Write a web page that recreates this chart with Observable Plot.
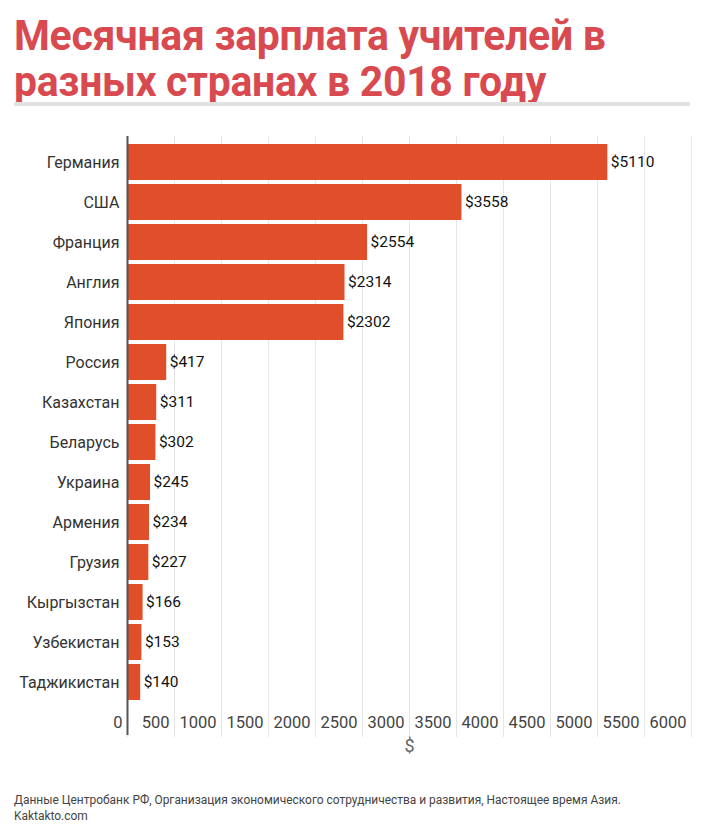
<!DOCTYPE html>
<html>
<head>
<meta charset="utf-8">
<script src="https://cdn.jsdelivr.net/npm/d3@7"></script>
<script src="https://cdn.jsdelivr.net/npm/@observablehq/plot@0.6"></script>
<style>
  html, body { margin: 0; padding: 0; background: #fff; width: 703px; height: 837px; overflow: hidden; }
  #wrap { position: relative; width: 703px; height: 837px; font-family: Roboto, "Noto Sans", sans-serif; }
  .title { position: absolute; left: 14px; top: 13px; font-weight: 700; font-size: 42px; line-height: 46px; color: #d84a4f; transform: scaleX(0.975); transform-origin: left top; white-space: nowrap; letter-spacing: -0.3px; }
  .rule { position: absolute; left: 14px; top: 102px; width: 676px; height: 4px; background: #e2e2e2; }
  #chart { position: absolute; left: 0; top: 130px; }
  .foot { position: absolute; left: 14px; top: 792px; font-size: 12.5px; line-height: 16px; color: #444; transform: scaleX(0.955); transform-origin: left top; white-space: nowrap; }
</style>
</head>
<body>
<div id="wrap">
  <div class="title">Месячная зарплата учителей в<br>разных странах в 2018 году</div>
  <div class="rule"></div>
  <div id="chart"></div>
  <div class="foot">Данные Центробанк РФ, Организация экономического сотрудничества и развития, Настоящее время Азия.<br>Kaktakto.com</div>
</div>
<script>
const countries = ["Германия", "США", "Франция", "Англия", "Япония", "Россия", "Казахстан", "Беларусь", "Украина", "Армения", "Грузия", "Кыргызстан", "Узбекистан", "Таджикистан"];
const salaries = [5110, 3558, 2554, 2314, 2302, 417, 311, 302, 245, 234, 227, 166, 153, 140];
const xTicks = [0, 500, 1000, 1500, 2000, 2500, 3000, 3500, 4000, 4500, 5000, 5500, 6000];
const xLabel = "$";

const data = countries.map((c, i) => ({country: c, value: salaries[i]}));

const chart = Plot.plot({
  width: 703,
  height: 640,
  marginLeft: 127,
  marginRight: 12,
  marginTop: 6,
  marginBottom: 63,
  style: {fontFamily: "Roboto, sans-serif", background: "transparent"},
  x: {domain: [0, 6000]},
  y: {domain: countries, padding: 0.1},
  marks: [
    Plot.ruleX(xTicks, {x: d => d, stroke: "#e6e6e6", strokeWidth: 1, insetBottom: -30}),
    Plot.barX(data, {x: "value", y: "country", fill: "#e04e2a"}),
    Plot.text(data, {x: "value", y: "country", text: d => "$" + d.value, dx: 3, textAnchor: "start", fontSize: 15.5, fill: "#111"}),
    Plot.ruleX([0], {stroke: "#555", strokeWidth: 2, insetBottom: -28}),
    Plot.axisY({tickSize: 0, tickPadding: 8, fontSize: 16, color: "#333", label: null}),
    Plot.axisX({ticks: xTicks, tickSize: 0, tickPadding: 9, fontSize: 16.5, color: "#444", textAnchor: "end", dx: -5, tickFormat: d => String(d), label: null}),
    Plot.text([xLabel], {frameAnchor: "bottom", dy: 44, fontSize: 18, fill: "#666", text: d => d})
  ]
});
document.getElementById("chart").appendChild(chart);
</script>
</body>
</html>
